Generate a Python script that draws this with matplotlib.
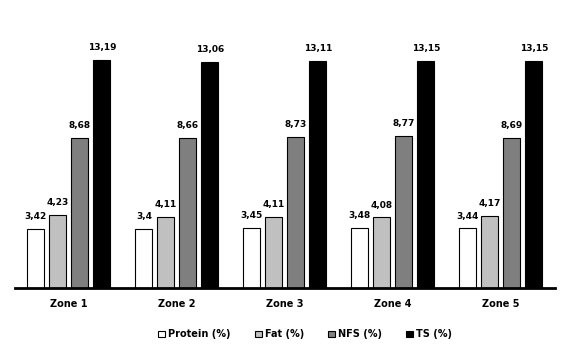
import matplotlib
matplotlib.use("Agg")
from matplotlib import pyplot as plt
from matplotlib.patches import Patch
import numpy as np

zones = ["Zone 1", "Zone 2", "Zone 3", "Zone 4", "Zone 5"]
protein = [3.42, 3.40, 3.45, 3.48, 3.44]
fat = [4.23, 4.11, 4.11, 4.08, 4.17]
nfs = [8.68, 8.66, 8.73, 8.77, 8.69]
ts = [13.19, 13.06, 13.11, 13.15, 13.15]
labels = {
    "Protein (%)": ["3,42", "3,4", "3,45", "3,48", "3,44"],
    "Fat (%)": ["4,23", "4,11", "4,11", "4,08", "4,17"],
    "NFS (%)": ["8,68", "8,66", "8,73", "8,77", "8,69"],
    "TS (%)": ["13,19", "13,06", "13,11", "13,15", "13,15"],
}
series = {"Protein (%)": protein, "Fat (%)": fat, "NFS (%)": nfs, "TS (%)": ts}
colors = ["white", "#c0c0c0", "#7f7f7f", "black"]

fig = plt.figure(figsize=(5.63, 3.52), dpi=100)
ax = fig.add_axes([0.0266, 0.182, 0.959, 0.737])

x = np.arange(len(zones))
width = 17 / 108
step = 22 / 108
for i, (name, vals) in enumerate(series.items()):
    pos = x + (i - 1.5) * step
    ax.bar(pos, vals, width, color=colors[i], edgecolor="black", linewidth=0.8)
    for p, v, t in zip(pos, vals, labels[name]):
        ax.text(p, v + 0.45, t, ha="center", va="bottom", fontsize=6.5,
                fontweight="bold")

ax.set_xlim(-0.5, len(zones) - 0.5)
ax.set_ylim(0, 15)
ax.set_xticks(x)
ax.set_xticklabels(zones, fontsize=7, fontweight="bold")
ax.tick_params(axis="x", length=0, pad=8)
ax.set_yticks([])
for side in ["top", "right", "left"]:
    ax.spines[side].set_visible(False)
ax.spines["bottom"].set_linewidth(2)

handles = [Patch(facecolor=c, edgecolor="black", linewidth=0.8) for c in colors]
fig.legend(handles, list(series.keys()), loc="center", bbox_to_anchor=(0.542, 0.05),
           ncol=4, frameon=False, prop={"size": 7, "weight": "bold"},
           handlelength=0.7, handleheight=0.7, handletextpad=0.3, columnspacing=2.5)

fig.savefig("out.png", dpi=100)
